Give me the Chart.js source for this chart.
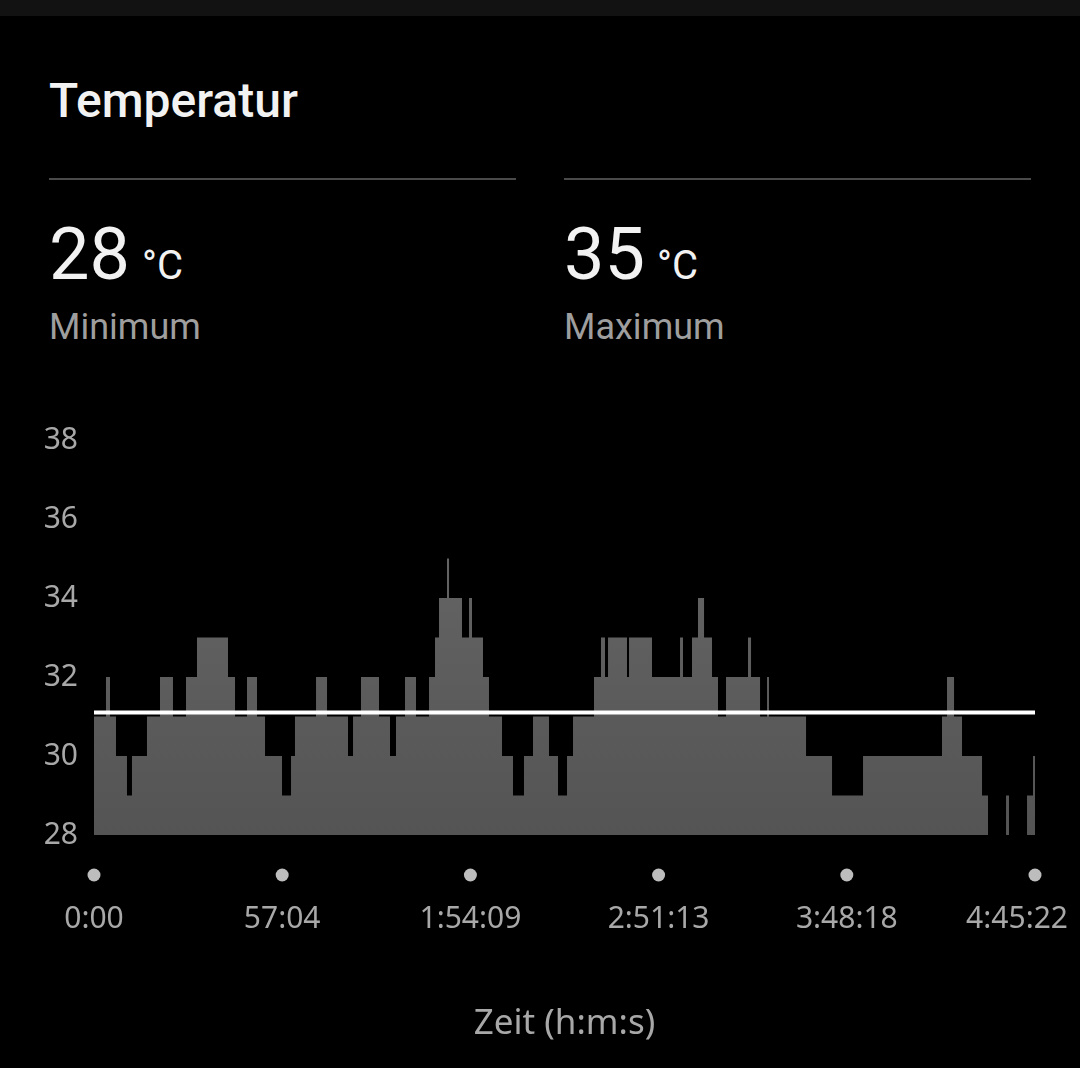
<!DOCTYPE html>
<html lang="de">
<head>
<meta charset="utf-8">
<title>Temperatur</title>
<script src="https://cdn.jsdelivr.net/npm/chart.js@4.4.1/dist/chart.umd.min.js"></script>
<style>
  html, body { margin: 0; padding: 0; background: #000; }
  body { width: 1080px; height: 1068px; position: relative; overflow: hidden; font-family: Roboto, sans-serif; color: #f2f2f2; }
  .topbar { position: absolute; left: 0; top: 0; width: 1080px; height: 16px; background: #121212; }
  .title { position: absolute; left: 49px; top: 77px; font-size: 48px; line-height: 1; font-weight: 500; }
  .rule { position: absolute; top: 178px; height: 2px; width: 467px; background: #4a4a4a; }
  .stat { position: absolute; top: 219px; }
  .stat .val { font-size: 72px; line-height: 1; white-space: nowrap; }
  .stat .unit { font-size: 40px; margin-left: 12px; }
  .stat .lbl { font-size: 36px; line-height: 1; color: #9e9e9e; margin-top: 18px; }
  #chart { position: absolute; left: 0; top: 400px; }
</style>
</head>
<body>
<div class="topbar"></div>
<div class="title">Temperatur</div>
<div class="rule" style="left:49px"></div>
<div class="rule" style="left:564px"></div>
<div class="stat" style="left:49px"><div class="val">28<span class="unit">°C</span></div><div class="lbl">Minimum</div></div>
<div class="stat" style="left:564px"><div class="val">35<span class="unit">°C</span></div><div class="lbl">Maximum</div></div>
<canvas id="chart" width="1080" height="668"></canvas>
<script>
// Zeitpunkte (Sekunden seit Start), ab denen der jeweilige Messwert gilt
const times = [
  0, 218, 291, 400, 600, 691, 964, 1201, 1437, 1674, 1874, 2438, 2566, 2784, 2966, 3112,
  3421, 3585, 3657, 4040, 4240, 4622, 4713, 4858, 5186, 5386, 5495, 5659, 5859, 6096, 6205,
  6278, 6423, 6460, 6696, 6824, 6878, 7078, 7187, 7424, 7624, 7824, 7988, 8279, 8443, 8607,
  8716, 9098, 9225, 9298, 9353, 9698, 9735, 10153, 10663, 10717, 10881, 10990, 11100, 11245,
  11354, 11500, 11900, 11955, 12119, 12246, 12282, 12956, 13429, 13993, 15430, 15521, 15649,
  15794, 16158, 16267, 16595, 16649, 16977, 17086, 17122
];
const temps = [
  31, 32, 31, 30, 29, 30, 31, 32, 31, 32, 33, 32, 31, 32, 31, 30,
  29, 30, 31, 32, 31, 30, 31, 32, 31, 30, 31, 32, 31, 32, 33,
  34, 35, 34, 33, 34, 33, 32, 31, 30, 29, 30, 31, 30, 29, 30,
  31, 32, 33, 32, 33, 32, 33, 32, 33, 32, 33, 34, 33, 32,
  31, 32, 33, 32, 31, 32, 31, 30, 29, 30, 31, 32, 31,
  30, 29, 28, 29, 28, 29, 30, 30
];
const avgTemp = 31.1;
const totalSeconds = 17122;
const xTickSeconds = [0, 3424, 6849, 10273, 13698, 17122];
const xTickLabels = ['0:00', '57:04', '1:54:09', '2:51:13', '3:48:18', '4:45:22'];
const yTicks = [28, 30, 32, 34, 36, 38];

Chart.defaults.color = '#a8a8a8';
Chart.defaults.font.family = '"Noto Sans", sans-serif';

// Punkte unter der x-Achse an jeder Zeitmarke, letzte Beschriftung rechtsbündig
const tickDots = {
  id: 'tickDots',
  beforeDraw(chart) {
    const items = chart.scales.x.getLabelItems();
    const last = items[items.length - 1];
    if (last) {
      last.options.textAlign = 'right';
      last.options.translation[0] = chart.width - 12;
    }
  },
  afterDraw(chart) {
    const { ctx, chartArea, scales: { x } } = chart;
    ctx.save();
    ctx.fillStyle = '#bdbdbd';
    xTickSeconds.forEach(v => {
      ctx.beginPath();
      ctx.arc(x.getPixelForValue(v), chartArea.bottom + 40, 6.5, 0, Math.PI * 2);
      ctx.fill();
    });
    ctx.restore();
  }
};

const ctx = document.getElementById('chart').getContext('2d');
new Chart(ctx, {
  type: 'line',
  data: {
    datasets: [
      {
        label: 'Durchschnitt',
        data: [{ x: 0, y: avgTemp }, { x: totalSeconds, y: avgTemp }],
        borderColor: '#ffffff',
        borderWidth: 4,
        pointRadius: 0,
        fill: false,
        order: 0
      },
      {
        label: 'Temperatur',
        data: times.map((t, i) => ({ x: t, y: temps[i] })),
        stepped: true,
        borderWidth: 0,
        borderColor: 'rgba(0,0,0,0)',
        pointRadius: 0,
        fill: 'start',
        backgroundColor: c => {
          const area = c.chart.chartArea;
          if (!area) return '#5c5c5c';
          const g = c.chart.ctx.createLinearGradient(0, area.top, 0, area.bottom);
          g.addColorStop(0, '#6a6a6a');
          g.addColorStop(1, '#545454');
          return g;
        },
        order: 1
      }
    ]
  },
  options: {
    responsive: false,
    animation: false,
    devicePixelRatio: 1,
    layout: { padding: { top: 40, left: 0, right: 0, bottom: 0 } },
    plugins: { legend: { display: false }, tooltip: { enabled: false } },
    scales: {
      x: {
        type: 'linear',
        min: 0,
        max: totalSeconds,
        grid: { display: false, drawTicks: false },
        border: { display: false },
        afterBuildTicks: s => { s.ticks = xTickSeconds.map(v => ({ value: v })); },
        afterFit: s => { s.height = 233; s.paddingLeft = 0; s.paddingRight = 45; },
        ticks: {
          padding: 66,
          maxRotation: 0,
          autoSkip: false,
          font: { size: 30 },
          color: '#a8a8a8',
          callback: (v, i) => xTickLabels[i]
        },
        title: {
          display: true,
          text: 'Zeit (h:m:s)',
          color: '#a8a8a8',
          font: { size: 35 },
          padding: { top: 0, bottom: 23 }
        }
      },
      y: {
        min: 28,
        max: 38,
        grid: { display: false, drawTicks: false },
        border: { display: false },
        afterBuildTicks: s => { s.ticks = yTicks.map(v => ({ value: v })); },
        afterFit: s => { s.width = 94; s.paddingTop = 0; s.paddingBottom = 0; },
        ticks: { padding: 16, font: { size: 30 }, color: '#a8a8a8' }
      }
    }
  },
  plugins: [tickDots]
});
</script>
</body>
</html>
